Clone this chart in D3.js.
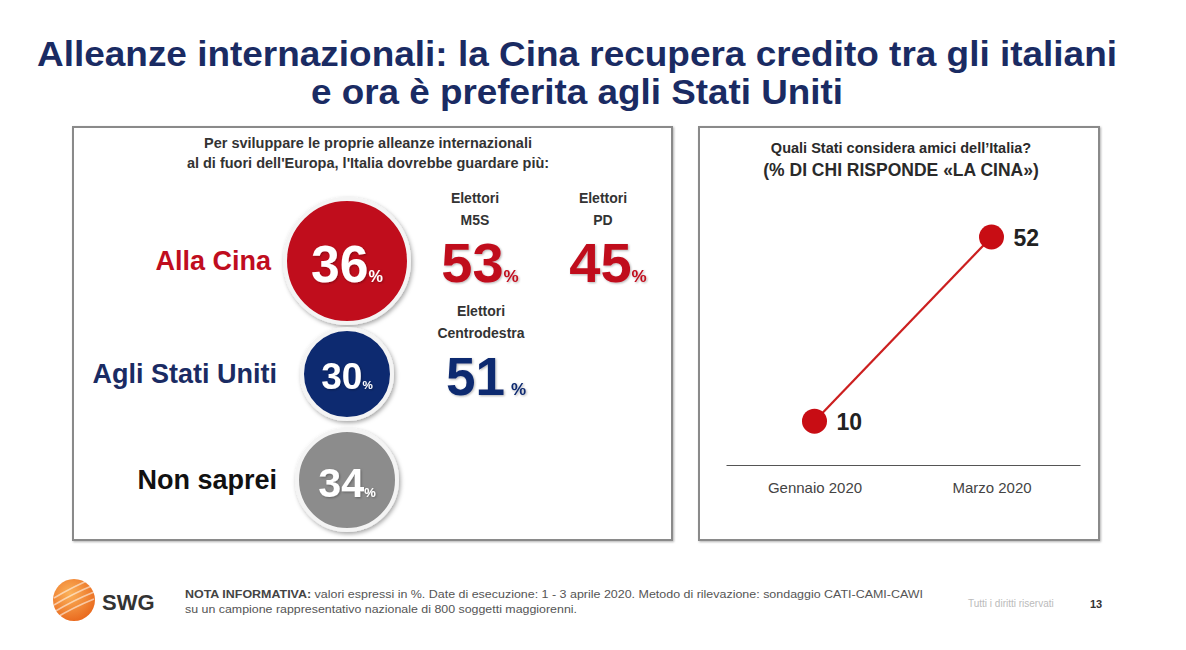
<!DOCTYPE html>
<html>
<head>
<meta charset="utf-8">
<script src="https://cdn.jsdelivr.net/npm/d3@7/dist/d3.min.js"></script>
<style>
  html, body { margin: 0; padding: 0; background: #ffffff; }
  svg { display: block; font-family: "Liberation Sans", Arial, sans-serif; }
</style>
</head>
<body>
<svg id="chart" width="1186" height="650"></svg>
<script>
// ---------------- DATA ----------------
const titleLines = ["Alleanze internazionali: la Cina recupera credito tra gli italiani", "e ora è preferita agli Stati Uniti"];
const leftQuestion = ["Per sviluppare le proprie alleanze internazionali", "al di fuori dell'Europa, l'Italia dovrebbe guardare più:"];
const categories = ["Alla Cina", "Agli Stati Uniti", "Non saprei"];
const totals = [36, 30, 34];
const segmentNames = [["Elettori", "M5S"], ["Elettori", "PD"], ["Elettori", "Centrodestra"]];
const segmentValues = [53, 45, 51];
const segmentCategory = ["Alla Cina", "Alla Cina", "Agli Stati Uniti"];
const rightQuestion = ["Quali Stati considera amici dell\u2019Italia?", "(% DI CHI RISPONDE \u00abLA CINA\u00bb)"];
const periods = ["Gennaio 2020", "Marzo 2020"];
const chinaFriend = [10, 52];
const footNote = ["NOTA INFORMATIVA:", " valori espressi in %. Date di esecuzione: 1 - 3 aprile 2020. Metodo di rilevazione: sondaggio CATI-CAMI-CAWI", "su un campione rappresentativo nazionale di 800 soggetti maggiorenni."];

// ---------------- STYLE ----------------
const NAVY = "#1a2b63", RED = "#c00d1e", BLUE = "#0f2a70", GREY = "#8c8c8c";
const catColor = d3.scaleOrdinal().domain(categories).range([RED, BLUE, GREY]);
const labelColor = d3.scaleOrdinal().domain(categories).range([RED, NAVY, "#111"]);

const svg = d3.select("#chart");
const defs = svg.append("defs");
const sh = defs.append("filter").attr("id", "shadow").attr("x", "-20%").attr("y", "-20%").attr("width", "140%").attr("height", "140%");
sh.append("feDropShadow").attr("dx", 1.5).attr("dy", 2).attr("stdDeviation", 2).attr("flood-color", "#000").attr("flood-opacity", 0.35);
const bs = defs.append("filter").attr("id", "boxshadow").attr("x", "-5%").attr("y", "-5%").attr("width", "110%").attr("height", "110%");
bs.append("feDropShadow").attr("dx", 1).attr("dy", 1).attr("stdDeviation", 1.2).attr("flood-color", "#000").attr("flood-opacity", 0.3);
const ts = defs.append("filter").attr("id", "tshadow");
ts.append("feDropShadow").attr("dx", 1).attr("dy", 1).attr("stdDeviation", 0.8).attr("flood-color", "#000").attr("flood-opacity", 0.3);
const og = defs.append("radialGradient").attr("id", "orange").attr("cx", "40%").attr("cy", "35%").attr("r", "70%");
og.append("stop").attr("offset", "0%").attr("stop-color", "#fbb25a");
og.append("stop").attr("offset", "100%").attr("stop-color", "#e9671c");

// ---------------- TITLE ----------------
svg.append("g").selectAll("text").data(titleLines).join("text")
  .attr("x", 577).attr("y", (d, i) => 66 + i * 38)
  .attr("text-anchor", "middle")
  .attr("font-family", "'Liberation Sans Narrow', 'Liberation Sans', Arial, sans-serif")
  .attr("font-weight", "bold").attr("font-size", 35).attr("fill", NAVY)
  .attr("textLength", (d, i) => i === 0 ? 1080 : 532).attr("lengthAdjust", "spacingAndGlyphs")
  .text(d => d);

// ---------------- PANELS ----------------
const panels = [{x: 73, y: 127, w: 599, h: 413}, {x: 699, y: 127, w: 400, h: 413}];
svg.append("g").selectAll("rect").data(panels).join("rect")
  .attr("x", d => d.x).attr("y", d => d.y).attr("width", d => d.w).attr("height", d => d.h)
  .attr("fill", "#fff").attr("stroke", "#8a8a8a").attr("stroke-width", 2)
  .attr("filter", "url(#boxshadow)");

// ---------------- LEFT PANEL ----------------
const left = svg.append("g");
left.selectAll("text.q").data(leftQuestion).join("text").attr("class", "q")
  .attr("x", 368).attr("y", (d, i) => 148 + i * 20)
  .attr("text-anchor", "middle").attr("font-weight", "bold").attr("font-size", 14.5).attr("fill", "#333")
  .text(d => d);

const rowY = d3.scaleOrdinal().domain(categories).range([261, 374, 480]);
const radius = d3.scaleLinear().domain([30, 34, 36]).range([43, 48, 60]);
const labelRight = d3.scaleOrdinal().domain(categories).range([271, 277, 277]);
const circleX = 347;

const rows = left.selectAll("g.row").data(categories.map((c, i) => ({cat: c, value: totals[i]}))).join("g").attr("class", "row");
rows.append("circle")
  .attr("cx", circleX).attr("cy", d => rowY(d.cat)).attr("r", d => radius(d.value) + 2)
  .attr("fill", d => catColor(d.cat)).attr("stroke", "#f4f4f4").attr("stroke-width", 4)
  .attr("filter", "url(#shadow)");
rows.append("text")
  .attr("x", d => labelRight(d.cat)).attr("y", d => rowY(d.cat) + 9)
  .attr("text-anchor", "end").attr("font-weight", "bold").attr("font-size", 27)
  .attr("fill", d => labelColor(d.cat)).text(d => d.cat);
const num = rows.append("text")
  .attr("x", circleX).attr("y", d => rowY(d.cat) + radius(d.value) * 0.35)
  .attr("text-anchor", "middle").attr("font-weight", "bold").attr("fill", "#fff")
  .attr("filter", "url(#tshadow)");
num.append("tspan").attr("font-size", d => radius(d.value) * 0.86).text(d => d.value);
num.append("tspan").attr("font-size", d => radius(d.value) * 0.27).text("%");

// segment breakdowns
const segX = d3.scaleOrdinal().domain(["M5S", "PD", "Centrodestra"]).range([475, 603, 481]);
const segs = left.selectAll("g.seg").data(segmentValues.map((v, i) => ({value: v, names: segmentNames[i], cat: segmentCategory[i]}))).join("g").attr("class", "seg");
segs.each(function(d) {
  const g = d3.select(this);
  const x = segX(d.names[1]);
  const yb = rowY(d.cat);
  const top = d.cat === "Alla Cina" ? yb - 58 : yb - 58;
  g.selectAll("text.name").data(d.names).join("text").attr("class", "name")
    .attr("x", x).attr("y", (n, i) => top + i * 22)
    .attr("text-anchor", "middle").attr("font-weight", "bold").attr("font-size", 14).attr("fill", "#333")
    .text(n => n);
  const t = g.append("text").attr("x", x + 5).attr("y", yb + 21)
    .attr("text-anchor", "middle").attr("font-weight", "bold").attr("fill", d.cat === "Alla Cina" ? RED : BLUE)
    .attr("filter", "url(#tshadow)");
  t.append("tspan").attr("font-size", d.cat === "Alla Cina" ? 56 : 53).text(d.value);
  t.append("tspan").attr("font-size", 17).attr("dx", d.cat === "Alla Cina" ? 0 : 6).text("%");
});

// ---------------- RIGHT PANEL ----------------
const right = svg.append("g");
right.selectAll("text.q").data(rightQuestion).join("text").attr("class", "q")
  .attr("x", 901).attr("y", (d, i) => 153 + i * 23)
  .attr("text-anchor", "middle").attr("font-weight", "bold")
  .attr("font-size", (d, i) => i === 0 ? 14.5 : 17.5).attr("fill", "#2a2a2a")
  .text(d => d);

const x = d3.scalePoint().domain(periods).range([726, 1080]).padding(0.5);
const y = d3.scaleLinear().domain([0, 52]).range([465, 237]);

const axis = right.append("g").attr("transform", `translate(0,${y(0)})`)
  .call(d3.axisBottom(x).tickSize(0).tickSizeOuter(0).tickPadding(17));
axis.select(".domain").attr("stroke", "#555").attr("stroke-width", 1.2);
axis.selectAll("text").attr("font-family", "'Liberation Sans', Arial, sans-serif").attr("font-size", 15).attr("fill", "#444");

const pts = periods.map((p, i) => ({p, v: chinaFriend[i]}));
right.append("path").datum(pts)
  .attr("d", d3.line().x(d => x(d.p)).y(d => y(d.v)))
  .attr("fill", "none").attr("stroke", "#cc1f1f").attr("stroke-width", 2.2);
right.selectAll("circle.pt").data(pts).join("circle").attr("class", "pt")
  .attr("cx", d => x(d.p)).attr("cy", d => y(d.v)).attr("r", 12.5)
  .attr("fill", "#c80d14");
right.selectAll("text.val").data(pts).join("text").attr("class", "val")
  .attr("x", d => x(d.p) + 22).attr("y", d => y(d.v) + 9)
  .attr("font-weight", "bold").attr("font-size", 23).attr("fill", "#222")
  .text(d => d.v);

// ---------------- FOOTER ----------------
const foot = svg.append("g");
foot.append("circle").attr("cx", 74).attr("cy", 600).attr("r", 21).attr("fill", "url(#orange)");
[-10, -3, 4, 11].forEach(o => {
  foot.append("path")
    .attr("d", `M${74 - 20},${600 + o + 8} Q${74},${600 + o - 4} ${74 + 20},${600 + o - 12}`)
    .attr("fill", "none").attr("stroke", "#fff").attr("stroke-opacity", 0.55).attr("stroke-width", 1.6);
});
foot.append("text").attr("x", 102).attr("y", 610).attr("font-weight", "bold").attr("font-size", 22).attr("fill", "#333").text("SWG");
const n1 = foot.append("text").attr("x", 185).attr("y", 598).attr("font-size", 10).attr("fill", "#555")
  .attr("textLength", 738).attr("lengthAdjust", "spacingAndGlyphs");
n1.append("tspan").attr("font-weight", "bold").attr("fill", "#444").text(footNote[0]);
n1.append("tspan").text(footNote[1]);
foot.append("text").attr("x", 185).attr("y", 613).attr("font-size", 10).attr("fill", "#555")
  .attr("textLength", 392).attr("lengthAdjust", "spacingAndGlyphs").text(footNote[2]);
foot.append("text").attr("x", 968).attr("y", 607).attr("font-size", 10).attr("fill", "#bbb").text("Tutti i diritti riservati");
foot.append("text").attr("x", 1090).attr("y", 608).attr("font-weight", "bold").attr("font-size", 11).attr("fill", "#333").text("13");
</script>
</body>
</html>
